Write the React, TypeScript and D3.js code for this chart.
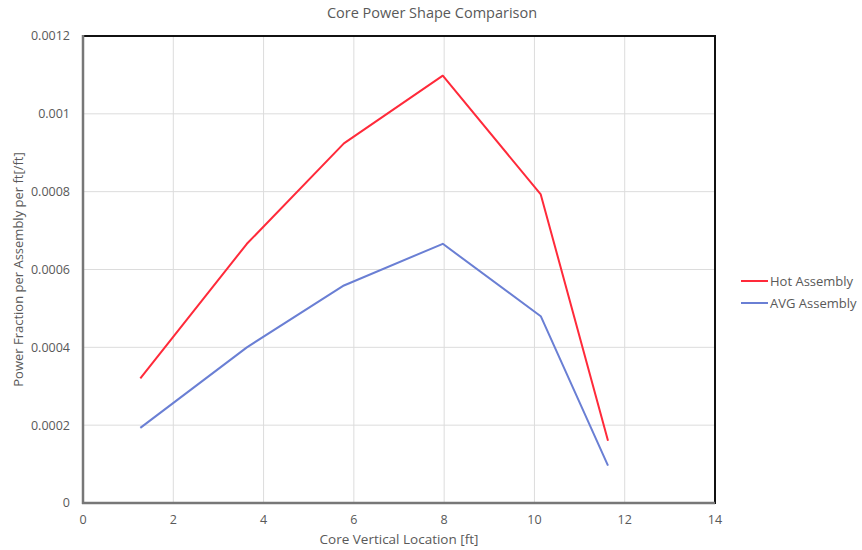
import React from "react";
import * as d3 from "d3";

const locations = [1.27, 3.63, 5.78, 7.97, 10.14, 11.63];
const hotAssembly = [0.00032, 0.000666, 0.000924, 0.001098, 0.000793, 0.00016];
const avgAssembly = [0.000193, 0.0004, 0.000559, 0.000666, 0.00048, 0.000096];
const xTicks = [0, 2, 4, 6, 8, 10, 12, 14];
const yTicks = [0, 0.0002, 0.0004, 0.0006, 0.0008, 0.001, 0.0012];
const yTickLabels = ["0", "0.0002", "0.0004", "0.0006", "0.0008", "0.001", "0.0012"];
const seriesNames = ["Hot Assembly", "AVG Assembly"];
const seriesColors = ["#ff2a3a", "#6a7fd4"];

const W = 862;
const H = 550;
const left = 83;
const right = 715;
const top = 36;
const bottom = 503;
const font = "'Open Sans', 'Noto Sans', sans-serif";
const textColor = "#595959";

export default function App() {
  const x = d3.scaleLinear().domain([0, 14]).range([left, right]);
  const y = d3.scaleLinear().domain([0, 0.0012]).range([bottom, top]);
  const line = d3
    .line<[number, number]>()
    .x((d) => x(d[0]))
    .y((d) => y(d[1]));
  const series = [hotAssembly, avgAssembly];

  return (
    <svg
      width={W}
      height={H}
      style={{ position: "absolute", left: 0, top: 0, background: "#fff" }}
      fontFamily={font}
    >
      <rect x={0} y={0} width={W} height={H} fill="#fff" />
      {xTicks.map((t) => (
        <line key={"gx" + t} x1={x(t)} x2={x(t)} y1={top} y2={bottom} stroke="#dcdcdc" strokeWidth={1} />
      ))}
      {yTicks.map((t) => (
        <line key={"gy" + t} x1={left} x2={right} y1={y(t)} y2={y(t)} stroke="#dcdcdc" strokeWidth={1} />
      ))}
      {series.map((s, i) => (
        <path
          key={"s" + i}
          d={line(locations.map((l, j) => [l, s[j]] as [number, number])) || ""}
          fill="none"
          stroke={seriesColors[i]}
          strokeWidth={2}
          strokeLinejoin="round"
        />
      ))}
      {/* frame */}
      <line x1={left} x2={right + 1} y1={top} y2={top} stroke="#111" strokeWidth={2} />
      <line x1={right} x2={right} y1={top} y2={bottom + 1} stroke="#111" strokeWidth={2} />
      <line x1={left} x2={left} y1={top - 1} y2={bottom + 1} stroke="#777" strokeWidth={2.5} />
      <line x1={left - 1} x2={right} y1={bottom} y2={bottom} stroke="#777" strokeWidth={2.5} />

      {yTicks.map((t, i) => (
        <text key={"yl" + t} x={70} y={y(t)} dy="0.35em" textAnchor="end" fontSize={12.5} fill={textColor}>
          {yTickLabels[i]}
        </text>
      ))}
      {xTicks.map((t) => (
        <text key={"xl" + t} x={x(t)} y={520} dy="0.35em" textAnchor="middle" fontSize={12.5} fill={textColor}>
          {t}
        </text>
      ))}
      <text x={432} y={13} dy="0.35em" textAnchor="middle" fontSize={14.5} fill={textColor}>
        Core Power Shape Comparison
      </text>
      <text x={399} y={539} dy="0.35em" textAnchor="middle" fontSize={13.5} fill={textColor}>
        Core Vertical Location [ft]
      </text>
      <text
        transform={`translate(18,${(top + bottom) / 2}) rotate(-90)`}
        dy="0.35em"
        textAnchor="middle"
        fontSize={13}
        fill={textColor}
      >
        Power Fraction per Assembly per ft[/ft]
      </text>
      {seriesNames.map((n, i) => (
        <g key={"lg" + i} transform={`translate(741,${281 + i * 22})`}>
          <line x1={0} x2={27} y1={0} y2={0} stroke={seriesColors[i]} strokeWidth={2} />
          <text x={29} y={0} dy="0.35em" fontSize={13} fill={textColor}>
            {n}
          </text>
        </g>
      ))}
    </svg>
  );
}
